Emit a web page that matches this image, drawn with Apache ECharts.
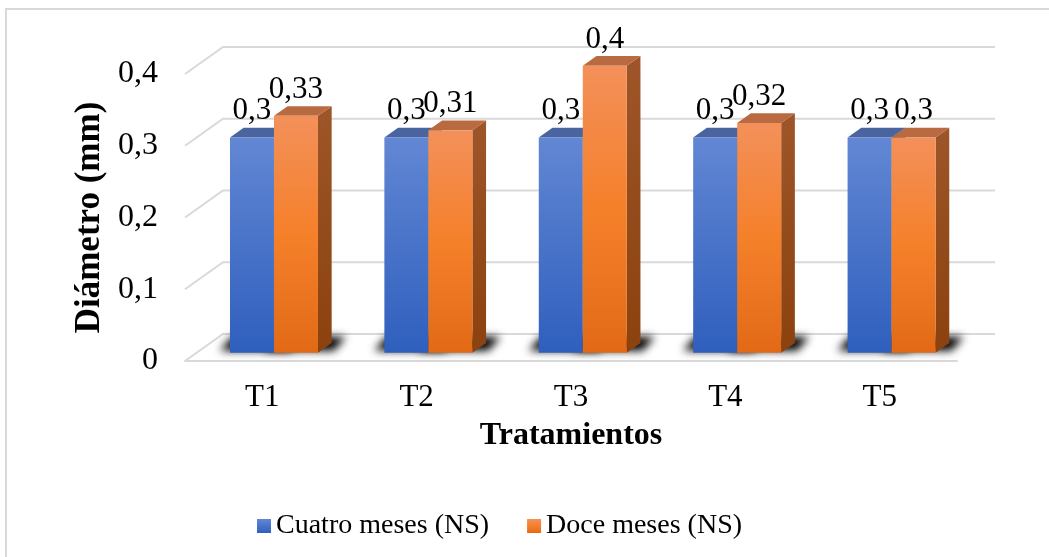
<!DOCTYPE html>
<html>
<head>
<meta charset="utf-8">
<script src="https://cdn.jsdelivr.net/npm/echarts@6/dist/echarts.min.js"></script>
<style>
  html, body { margin: 0; padding: 0; background: #fff; }
  #chart { width: 1049px; height: 557px; }
</style>
</head>
<body>
<div id="chart"></div>
<script>
const categories = ['T1', 'T2', 'T3', 'T4', 'T5'];
const cuatroMeses = [0.3, 0.3, 0.3, 0.3, 0.3];
const doceMeses = [0.33, 0.31, 0.4, 0.32, 0.3];
const yTicks = [0, 0.1, 0.2, 0.3, 0.4];

const FONT = "'Liberation Serif', 'Times New Roman', serif";
// Receding direction of the 3D box (walls and floor), in pixels
const DEPTH = { x: 38, y: -27 };
const BAR_POS = 0.31;    // where the bar's front face sits inside the box depth
const BAR_DEPTH = 0.36;  // bar thickness as a share of the box depth
const BAR_SHARE = 0.285; // bar width as a share of the category band
const SHADOW_SHIFT = 3000; // shadow source is drawn off-canvas, only its blur lands on the floor

const palettes = [
  {
    front: ['#6287d4', '#2f5fbd'],
    top: '#4a649f',
    side: ['#34528f', '#233f78']
  },
  {
    front: ['#f3905a', '#f5802a', '#e26a17'],
    top: '#b96a40',
    side: ['#9e5529', '#8b420e']
  }
];

function vGrad(stops) {
  const n = stops.length - 1;
  return new echarts.graphic.LinearGradient(0, 0, 0, 1,
    stops.map((c, k) => ({ offset: k / n, color: c })));
}

function fmt(v) { return String(v).replace('.', ','); }

function barRenderer(side) {
  const pal = palettes[side];
  return function (params, api) {
    const i = api.value(0);
    const v = api.value(1);
    const band = api.size([1, 0])[0];
    const w = band * BAR_SHARE;
    const base = api.coord([i, 0]);
    const top = api.coord([i, v]);
    const ox = DEPTH.x * BAR_POS, oy = DEPTH.y * BAR_POS;
    const dx = DEPTH.x * BAR_DEPTH, dy = DEPTH.y * BAR_DEPTH;
    const cx = base[0] + ox;
    const x0 = side === 0 ? cx - w : cx;
    const x1 = x0 + w;
    const yb = base[1] + oy;
    const yt = top[1] + oy;
    const S = SHADOW_SHIFT;
    const children = [];
    // soft floor shadow cast behind the bar
    children.push({
      type: 'polygon',
      z2: 0,
      shape: { points: [[x0 - 10 - S, yb - 2], [x1 + 16 - S, yb - 2], [x1 + 28 - S, yb - 16], [x0 + 2 - S, yb - 16]] },
      style: {
        fill: '#000',
        shadowBlur: 9,
        shadowColor: 'rgba(0,0,0,1)',
        shadowOffsetX: S,
        shadowOffsetY: 0
      }
    });
    // right side face
    children.push({
      type: 'polygon',
      z2: 10,
      shape: { points: [[x1, yt], [x1 + dx, yt + dy], [x1 + dx, yb + dy], [x1, yb]] },
      style: { fill: vGrad(pal.side) }
    });
    // top face
    children.push({
      type: 'polygon',
      z2: 10,
      shape: { points: [[x0, yt], [x1, yt], [x1 + dx, yt + dy], [x0 + dx, yt + dy]] },
      style: { fill: pal.top }
    });
    // front face
    children.push({
      type: 'rect',
      z2: 11,
      shape: { x: x0, y: yt, width: w, height: yb - yt },
      style: { fill: vGrad(pal.front) }
    });
    // value label
    children.push({
      type: 'text',
      z2: 12,
      style: {
        text: fmt(v),
        x: (x0 + x1) / 2,
        y: yt + dy - 1,
        align: 'center',
        verticalAlign: 'bottom',
        font: '31px ' + FONT,
        fill: '#000'
      }
    });
    return { type: 'group', children: children };
  };
}

function wallRenderer(params, api) {
  const v = api.value(1);
  const cs = params.coordSys;
  const y = api.coord([0, v])[1];
  return {
    type: 'polyline',
    shape: { points: [[cs.x, y], [cs.x + DEPTH.x, y + DEPTH.y], [cs.x + cs.width + DEPTH.x, y + DEPTH.y]] },
    style: { stroke: '#d9d9d9', lineWidth: 2, fill: null }
  };
}

const chart = echarts.init(document.getElementById('chart'), null, { renderer: 'canvas' });

chart.setOption({
  animation: false,
  backgroundColor: '#fff',
  textStyle: { fontFamily: FONT },
  graphic: [{
    type: 'rect',
    shape: { x: 6, y: 9, width: 1100, height: 600 },
    style: { fill: null, stroke: '#d9d9d9', lineWidth: 2 },
    silent: true
  }],
  grid: { left: 185, right: 92, top: 74, bottom: 196 },
  legend: {
    data: ['Cuatro meses (NS)', 'Doce meses (NS)'],
    left: 252,
    top: 507,
    icon: 'rect',
    itemWidth: 14,
    itemHeight: 14,
    itemGap: 38,
    textStyle: { fontFamily: FONT, fontSize: 28, color: '#000' }
  },
  xAxis: {
    type: 'category',
    data: categories,
    name: 'Tratamientos',
    nameLocation: 'middle',
    nameGap: 59,
    nameTextStyle: { fontFamily: FONT, fontSize: 32, fontWeight: 'bold', color: '#000' },
    axisLine: { show: true, lineStyle: { color: '#d9d9d9', width: 2 } },
    axisTick: { show: false },
    axisLabel: { fontFamily: FONT, fontSize: 31, color: '#000', margin: 21 },
    splitLine: { show: false }
  },
  yAxis: {
    type: 'value',
    min: 0,
    max: 0.4,
    interval: 0.1,
    name: 'Diámetro (mm)',
    nameLocation: 'middle',
    nameGap: 75,
    nameTextStyle: { fontFamily: FONT, fontSize: 35, fontWeight: 'bold', color: '#000' },
    axisLine: { show: false },
    axisTick: { show: false },
    splitLine: { show: false },
    axisLabel: {
      fontFamily: FONT, fontSize: 32, color: '#000', margin: 27,
      formatter: v => fmt(Math.round(v * 10) / 10)
    }
  },
  series: [
    {
      type: 'custom',
      name: 'walls',
      z: 1,
      silent: true,
      renderItem: wallRenderer,
      data: yTicks.map(v => [0, v]),
      encode: { x: 0, y: 1 }
    },
    {
      type: 'custom',
      name: 'Cuatro meses (NS)',
      z: 2,
      renderItem: barRenderer(0),
      itemStyle: { color: vGrad(palettes[0].front) },
      data: cuatroMeses.map((v, i) => [i, v]),
      encode: { x: 0, y: 1 }
    },
    {
      type: 'custom',
      name: 'Doce meses (NS)',
      z: 2,
      renderItem: barRenderer(1),
      itemStyle: { color: vGrad(palettes[1].front) },
      data: doceMeses.map((v, i) => [i, v]),
      encode: { x: 0, y: 1 }
    }
  ]
});
</script>
</body>
</html>
